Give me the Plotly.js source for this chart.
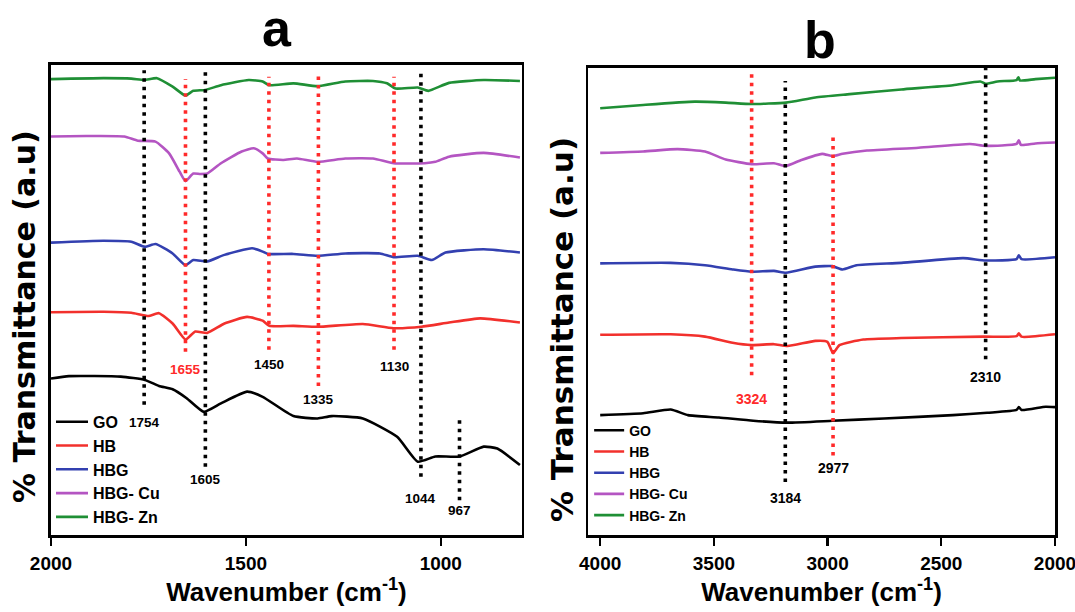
<!DOCTYPE html>
<html>
<head>
<meta charset="utf-8">
<script src="https://cdn.plot.ly/plotly-3.0.1.min.js"></script>
<style>
html,body{margin:0;padding:0;background:#fff;}
#chart{width:1075px;height:612px;}
</style>
</head>
<body>
<div id="chart"></div>
<script>
// ---------- DATA ----------
const seriesNames = ['GO', 'HB', 'HBG', 'HBG- Cu', 'HBG- Zn'];

// Panel a (2000-800 cm-1)
const wnA_GO   = [2000,1954,1821,1759,1723,1688,1652,1608,1564,1497,1457,1378,1316,1280,1200,1112,1059,1014,952,890,855,797];
const tA_GO    = [33.3,33.8,33.7,33.0,31.7,31.0,29.1,26.2,28.0,30.5,29.4,25.3,24.8,25.3,24.8,20.9,15.6,16.7,16.7,18.8,18.4,14.9];
const wnA_HB   = [2000,1865,1794,1750,1723,1688,1655,1630,1599,1555,1497,1457,1440,1378,1316,1200,1121,1050,979,899,797];
const tA_HB    = [47.4,47.5,47.3,46.6,47.2,45.0,41.6,43.3,43.0,45.0,46.4,45.6,44.5,44.5,44.3,44.9,44.0,44.3,45.2,46.1,45.2];
const wnA_HBG  = [2000,1865,1794,1759,1732,1688,1655,1635,1599,1555,1484,1457,1444,1378,1316,1245,1156,1121,1059,1023,988,890,797];
const tA_HBG   = [62.2,62.6,62.4,61.3,61.9,59.9,57.4,58.5,58.2,59.6,61.0,60.3,59.8,59.8,59.4,59.9,59.9,59.1,59.4,58.5,60.1,60.8,60.1];
const wnA_Cu   = [2000,1910,1812,1777,1732,1697,1670,1655,1635,1617,1599,1564,1511,1480,1457,1444,1404,1369,1316,1245,1174,1121,1041,1014,979,890,797];
const tA_Cu    = [84.8,84.9,84.8,83.9,83.7,81.2,77.3,75.3,76.9,76.8,76.9,79.1,81.6,82.3,81.2,80.1,79.8,80.1,79.4,80.1,80.1,79.1,79.1,79.4,80.5,81.3,80.3];
const wnA_Zn   = [2000,1865,1794,1761,1728,1688,1655,1635,1604,1564,1493,1457,1441,1378,1316,1245,1174,1138,1116,1059,1032,979,890,797];
const tA_Zn    = [97.0,97.2,97.1,96.8,97.2,95.4,93.5,94.5,94.7,95.7,96.8,96.5,95.7,96.1,95.5,96.5,96.6,96.1,95.0,95.2,94.5,96.2,96.8,96.6];

// Panel b (4000-2000 cm-1)
const wnB_GO   = [4000,3811,3690,3614,3478,3327,3176,2979,2752,2449,2298,2169,2159,2147,2041,2000];
const tB_GO    = [25.5,25.9,26.7,25.5,25.0,24.3,23.9,24.3,24.8,25.5,26.0,26.6,27.2,26.6,27.3,27.2];
const wnB_HB   = [4000,3690,3539,3418,3334,3236,3176,3054,3001,2976,2948,2843,2676,2313,2169,2159,2147,2000];
const tB_HB    = [42.6,42.7,42.2,40.9,40.4,40.6,40.2,41.3,41.1,38.7,40.4,41.6,41.9,42.2,42.3,42.9,42.2,42.7];
const wnB_HBG  = [4000,3690,3539,3418,3334,3236,3183,3054,2979,2934,2873,2676,2404,2305,2169,2159,2147,2000];
const tB_HBG   = [57.8,57.9,57.4,56.5,56.0,56.2,55.8,57.1,57.2,56.5,57.4,57.9,58.9,58.4,58.7,59.5,58.7,59.1];
const wnB_Cu   = [4000,3811,3660,3539,3448,3334,3236,3183,3115,3024,2979,2934,2827,2600,2374,2305,2169,2159,2150,2086,2000];
const tB_Cu    = [81.3,81.6,82.1,81.6,79.9,78.9,79.1,78.5,79.8,81.1,80.6,81.1,81.8,82.4,83.2,82.8,83.2,84.0,83.0,83.3,83.5];
const wnB_Zn   = [4000,3811,3584,3448,3334,3183,3054,2903,2676,2449,2328,2305,2253,2169,2161,2154,2086,2000];
const tB_Zn    = [90.8,91.5,92.2,92.0,91.7,92.0,93.1,93.8,94.8,95.7,96.5,96.0,96.5,96.8,97.4,96.7,97.0,97.3];

// Peak markers (dotted guide lines)
const peakPosA    = [1761,1655,1604,1441,1314,1120,1051,952];
const peakLabelA  = ['1754','1655','1605','1450','1335','1130','1044','967'];
const peakGroupA  = ['GO','HB','GO','HB','HB','HB','GO','GO'];
const peakTopA    = [98.9,97.0,98.6,97.5,98.6,97.5,98.6,25.5];
const peakBottomA = [27.7,39.0,14.5,39.4,31.7,39.4,12.4,7.4];
const peakLabelYA = [23.9,35.3,11.9,36.2,28.9,35.8,7.7,5.2];
const peakLabelHiA = [false,true,false,false,false,false,false,false];

const peakPosB    = [3334,3186,2976,2305];
const peakLabelB  = ['3324','3184','2977','2310'];
const peakGroupB  = ['HB','GO','HB','GO'];
const peakTopB    = [98.1,96.6,85.1,99.4];
const peakBottomB = [34.0,11.3,16.9,37.4];
const peakLabelYB = [28.9,7.8,14.3,33.6];
const peakLabelHiB = [true,false,false,false];

const ticksA = [2000,1500,1000];
const ticksB = [4000,3500,3000,2500,2000];

const panelTitles = ['a','b'];
const xTitle = 'Wavenumber (cm<sup>-1</sup>)';
const yTitle = '% Transmittance (a.u)';

// ---------- STYLE ----------
const lineColors = ['#000000','#f2302c','#3340b0','#b455c2','#1f8f35'];
const peakColors = {GO:'#000000', HB:'#ff2a2a'};
const FONT = 'Liberation Sans, Arial, Helvetica, sans-serif';
const WIDE = 'DejaVu Sans, Liberation Sans, sans-serif';

const panelA = [[wnA_GO,tA_GO],[wnA_HB,tA_HB],[wnA_HBG,tA_HBG],[wnA_Cu,tA_Cu],[wnA_Zn,tA_Zn]];
const panelB = [[wnB_GO,tB_GO],[wnB_HB,tB_HB],[wnB_HBG,tB_HBG],[wnB_Cu,tB_Cu],[wnB_Zn,tB_Zn]];

const traces = [];
panelA.forEach((s,i)=>{
  traces.push({x:s[0], y:s[1], xaxis:'x', yaxis:'y', legend:'legend', name:seriesNames[i],
    mode:'lines', line:{color:lineColors[i], width:2.6, shape:'spline', smoothing:0.5}, hoverinfo:'skip'});
});
panelB.forEach((s,i)=>{
  traces.push({x:s[0], y:s[1], xaxis:'x2', yaxis:'y2', legend:'legend2', name:seriesNames[i],
    mode:'lines', line:{color:lineColors[i], width:2.6, shape:'spline', smoothing:0.5}, hoverinfo:'skip'});
});

const shapes = [];
const annotations = [];
function addPeaks(pos, lab, grp, top, bot, ly, hi, xr, yr, fs){
  pos.forEach((p,i)=>{
    shapes.push({type:'line', xref:xr, yref:yr, x0:p, x1:p, y0:bot[i], y1:top[i],
      line:{color:peakColors[grp[i]], width:3.6, dash:'3.5px,5px'}, layer:'above'});
    annotations.push({xref:xr, yref:yr, x:p, y:ly[i], text:lab[i], showarrow:false,
      xanchor:'center', yanchor:'middle',
      font:{family:FONT, size:fs, weight:'bold', color: hi[i] ? peakColors.HB : '#000'}});
  });
}
addPeaks(peakPosA, peakLabelA, peakGroupA, peakTopA, peakBottomA, peakLabelYA, peakLabelHiA, 'x', 'y', 13.5);
addPeaks(peakPosB, peakLabelB, peakGroupB, peakTopB, peakBottomB, peakLabelYB, peakLabelHiB, 'x2', 'y2', 14);

// panel letters
annotations.push({xref:'paper', yref:'paper', x:0.225, y:1.0138, xanchor:'center', yanchor:'bottom',
  text:panelTitles[0], showarrow:false, font:{family:FONT, size:52, weight:'bold', color:'#000'}});
annotations.push({xref:'paper', yref:'paper', x:0.766, y:0.987, xanchor:'center', yanchor:'bottom',
  text:panelTitles[1], showarrow:false, font:{family:FONT, size:52, weight:'bold', color:'#000'}});
// y-axis titles
annotations.push({xref:'paper', yref:'paper', x:-0.0259, y:0.466, xanchor:'center', yanchor:'middle',
  textangle:-90, text:yTitle, showarrow:false, font:{family:WIDE, size:30, weight:'bold', color:'#000'}});
annotations.push({xref:'paper', yref:'paper', x:0.509, y:0.436, xanchor:'center', yanchor:'middle',
  textangle:-90, text:yTitle, showarrow:false, font:{family:WIDE, size:31, weight:'bold', color:'#000'}});

const frame = {showline:true, mirror:true, linewidth:2.6, linecolor:'#000', showgrid:false, zeroline:false};
const xCommon = Object.assign({}, frame, {
  ticks:'outside', ticklen:8, tickwidth:2.2, tickcolor:'#000', ticklabelstandoff:2,
  ticklabeloverflow:'allow',
  tickfont:{family:FONT, size:19, weight:'bold', color:'#000'},
  title:{text:xTitle, font:{family:FONT, size:26, weight:'bold', color:'#000'}, standoff:4}
});
const yCommon = Object.assign({}, frame, {ticks:'', showticklabels:false});

const layout = {
  width:1075, height:612,
  margin:{l:51, r:20, t:65, b:77},
  paper_bgcolor:'#ffffff', plot_bgcolor:'#ffffff',
  font:{family:FONT, color:'#000'},
  xaxis:Object.assign({}, xCommon, {domain:[0,0.469], range:[2000,792], tickvals:ticksA, anchor:'y'}),
  yaxis:Object.assign({}, yCommon, {domain:[0,1], range:[0,100], anchor:'x'}),
  xaxis2:Object.assign({}, xCommon, {domain:[0.535,1], range:[4053,2000], tickvals:ticksB, anchor:'y2'}),
  yaxis2:Object.assign({}, yCommon, {domain:[0,0.9936], range:[0,99.36], anchor:'x2'}),
  legend:{x:0.0, xanchor:'left', y:0.277, yanchor:'top', bgcolor:'rgba(0,0,0,0)', borderwidth:0,
    itemwidth:32, tracegroupgap:0, font:{family:FONT, size:16, weight:'bold', color:'#000'}},
  legend2:{x:0.536, xanchor:'left', y:0.256, yanchor:'top', bgcolor:'rgba(0,0,0,0)', borderwidth:0,
    itemwidth:30, tracegroupgap:0, font:{family:FONT, size:14, weight:'bold', color:'#000'}},
  shapes:shapes,
  annotations:annotations,
  showlegend:true
};

Plotly.newPlot('chart', traces, layout, {displayModeBar:false, staticPlot:true});
</script>
</body>
</html>
